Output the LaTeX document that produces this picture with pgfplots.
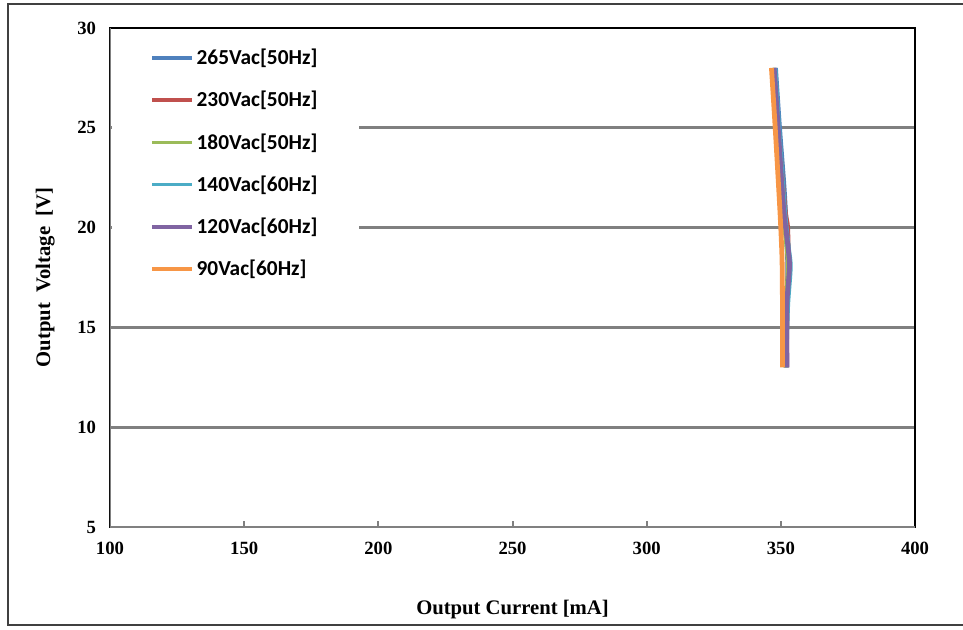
\documentclass[border=0pt]{standalone}
\usepackage{pgfplots}
\pgfplotsset{compat=1.18}
\usepackage{fontspec}
\setmainfont{Liberation Serif}
\newfontfamily\legfont{Carlito}

\definecolor{c265}{HTML}{4F81BD}
\definecolor{c230}{HTML}{C0504D}
\definecolor{c180}{HTML}{9BBB59}
\definecolor{c140}{HTML}{4BACC6}
\definecolor{c120}{HTML}{8064A2}
\definecolor{c90}{HTML}{F79646}
\definecolor{gridgray}{RGB}{128,128,128}

\begin{document}
\begin{tikzpicture}
% white margin and outer frame (1px = 0.75pt)
\path[use as bounding box] (-82.5pt,-76.5pt) rectangle (639.75pt,395.25pt);
\draw[black!75, line width=1.5pt] (-76.5pt,-73.5pt) rectangle (642pt,392.25pt);

\begin{axis}[
    at={(0,0)}, anchor=south west,
    scale only axis,
    width=603.75pt, height=374.25pt,
    xmin=100, xmax=400, ymin=5, ymax=30,
    xtick={100,150,...,400}, ytick={5,10,...,30},
    xtick pos=bottom, ytick pos=left,
    tick align=inside, major tick length=4.5pt,
    tick style={gridgray, line width=1.5pt},
    ymajorgrids,
    grid style={gridgray, line width=2.2pt},
    axis line style={black, line width=2pt},
    /pgf/number format/assume math mode=true,
    ticklabel style={font=\fontsize{14}{16}\selectfont\bfseries},
    xticklabel style={yshift=-8pt},
    yticklabel style={xshift=-7pt},
    xlabel={Output Current [mA]},
    ylabel={Output\ \ Voltage\ \ [V]},
    label style={font=\fontsize{15.5}{18}\selectfont\bfseries},
    xlabel style={yshift=-27pt},
    ylabel style={yshift=10pt},
    legend cell align=left,
    legend style={
        at={(axis description cs:0.002,0.985)}, anchor=north west,
        draw=none, fill=white,
        font=\legfont\fontsize{16}{19}\selectfont\bfseries,
        row sep=14.5pt, inner xsep=29pt, inner ysep=8pt,
    },
    legend image code/.code={\draw[#1, line width=2.6pt] (0pt,0pt) -- (30pt,0pt);},
    every axis plot/.append style={line width=3.6pt, smooth, tension=0.5},
]
\addplot[c265] coordinates {(348.0,28) (349.5,25) (351.2,22) (352.0,20) (352.6,18) (352.2,16) (352.0,13)};
\addlegendentry{265Vac[50Hz]}
\addplot[c230] coordinates {(347.5,28) (349.0,25) (351.5,21) (352.5,20) (352.8,18) (352.3,16) (352.2,13)};
\addlegendentry{230Vac[50Hz]}
\addplot[c180] coordinates {(347.2,28) (348.8,25) (350.8,21) (352.3,19) (352.8,18) (352.0,16) (351.8,13)};
\addlegendentry{180Vac[50Hz]}
\addplot[c140] coordinates {(347.8,28) (349.2,25) (351.3,21) (352.8,19) (353.5,18) (352.5,16) (351.9,13)};
\addlegendentry{140Vac[60Hz]}
\addplot[c120] coordinates {(347.5,28) (349.0,25) (351.0,21) (352.7,19) (353.2,18) (352.2,16) (352.3,13)};
\addlegendentry{120Vac[60Hz]}
\addplot[c90] coordinates {(346.5,28) (347.9,25) (349.6,21) (350.3,19) (350.5,18) (350.6,16) (350.6,13)};
\addlegendentry{90Vac[60Hz]}
% left and bottom axis lines are grey in the reference
\draw[gridgray, line width=2pt] (rel axis cs:0,1) -- (rel axis cs:0,0) -- (rel axis cs:1,0);
\end{axis}
\end{tikzpicture}
\end{document}
